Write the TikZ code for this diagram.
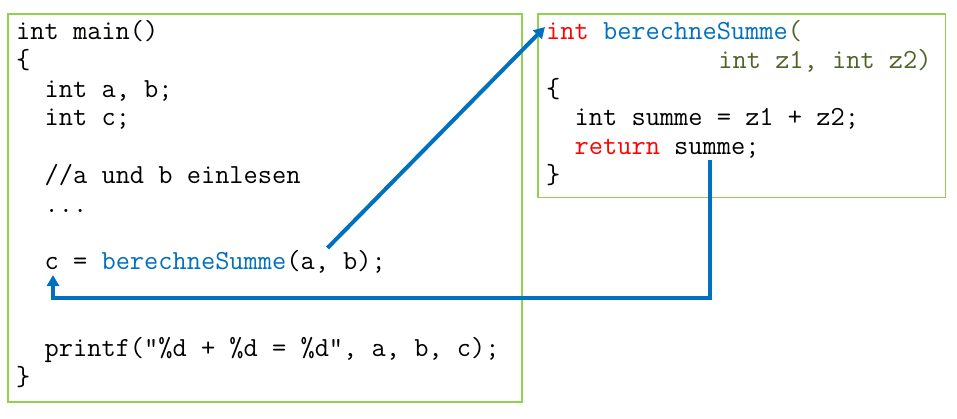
\documentclass[tikz,border=0pt]{standalone}
\usepackage{fontspec}
\usetikzlibrary{arrows.meta}
\definecolor{boxgreen}{RGB}{146,208,80}
\definecolor{codeblue}{RGB}{0,112,192}
\definecolor{codered}{RGB}{255,0,0}
\definecolor{codeolive}{RGB}{79,98,40}
\tikzset{
  codebox/.style={draw=boxgreen, line width=1.5pt},
  codeline/.style={anchor=base west, inner sep=0pt, font=\ttfamily\fontsize{27.6}{30}\selectfont, text=black},
  flow/.style={draw=codeblue, line width=4pt, -{Triangle[length=11pt,width=12pt]}}
}
\begin{document}
\begin{tikzpicture}[x=1pt,y=-1pt]
\useasboundingbox (0,0) rectangle (957,418);
\fill[white] (0,0) rectangle (957,418);
% boxes
\node[codebox, minimum width=514pt, minimum height=388pt, anchor=north west, inner sep=0pt] (mainbox) at (7,13) {};
\node[codebox, minimum width=407.5pt, minimum height=183.5pt, anchor=north west, inner sep=0pt] (funcbox) at (537,13) {};
% left code
\node[codeline] (m0) at (16,39.5) {int main()};
\node[codeline] (m1) at (16,68.3) {\{};
\node[codeline] (m2) at (44.5,97.1) {int a, b;};
\node[codeline] (m3) at (44.5,125.9) {int c;};
\node[codeline] (m5) at (44.5,183.5) {//a und b einlesen};
\node[codeline] (m6) at (44.5,212.3) {...};
\node[codeline] (m8) at (44.5,269.9) {c = \textcolor{codeblue}{berechneSumme}(a, b);};
\node[codeline] (m11) at (44.5,356.3) {printf("\%d + \%d = \%d", a, b, c);};
\node[codeline] (m12) at (16,385.1) {\}};
% right code
\node[codeline] (f0) at (546,39.5) {\textcolor{codered}{int} \textcolor{codeblue}{berechneSumme}\textcolor{codeolive}{(}};
\node[codeline, text=codeolive] (f1) at (718.2,68.3) {int z1, int z2)};
\node[codeline] (f2) at (546,97.1) {\{};
\node[codeline] (f3) at (574.5,125.9) {int summe = z1 + z2;};
\node[codeline] (f4) at (574.5,154.7) {\textcolor{codered}{return} summe;};
\node[codeline] (f5) at (546,183.5) {\}};
% connectors
\coordinate (callstart) at (327.5,248);
\coordinate (calltip) at (545,27);
\coordinate (retstart) at (710,160);
\coordinate (rettip) at (53,275);
\draw[flow] (callstart) -- (calltip);
\draw[flow] (retstart) |- (53,298) -- (rettip);
\end{tikzpicture}
\end{document}
